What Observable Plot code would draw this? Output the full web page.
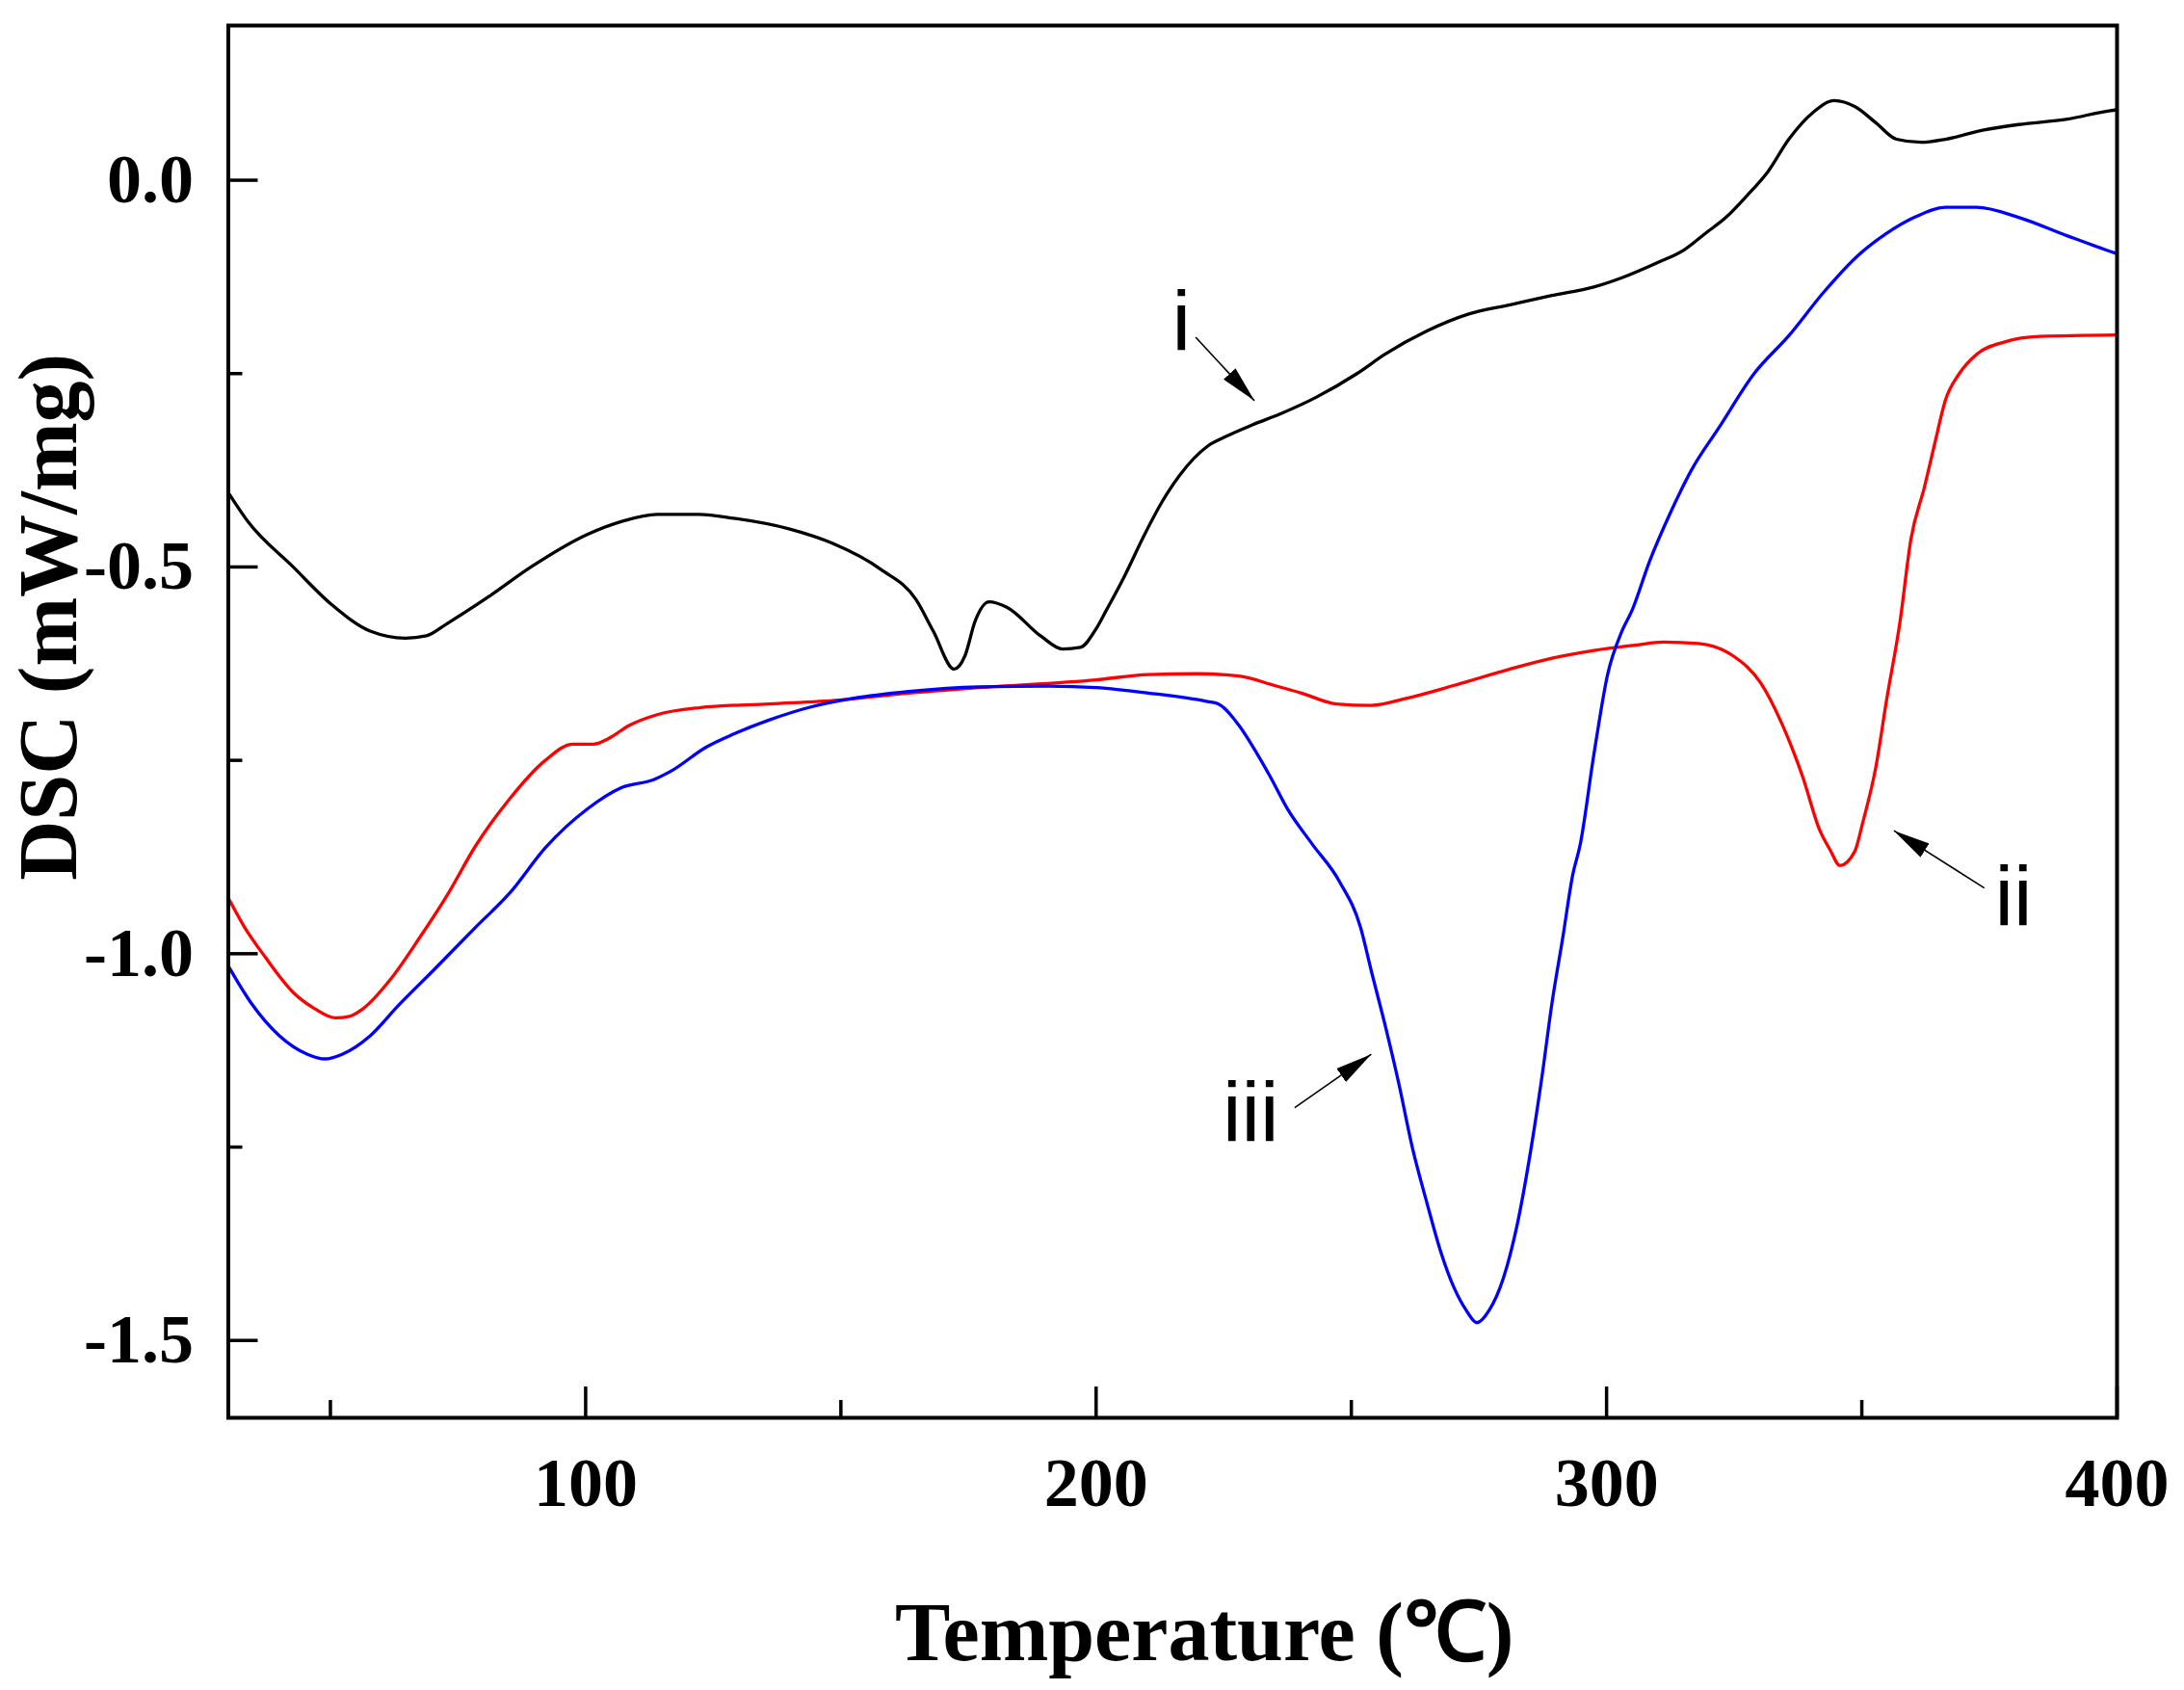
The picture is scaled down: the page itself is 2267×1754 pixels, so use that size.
<!DOCTYPE html>
<html><head><meta charset="utf-8">
<script src="https://cdn.jsdelivr.net/npm/d3@7"></script>
<script src="https://cdn.jsdelivr.net/npm/@observablehq/plot@0.6"></script>
<style>html,body{margin:0;padding:0;background:#fff;} svg{display:block;}</style>
</head><body><div id="chart"></div>
<script>
// Curve i (black)
const tempI = [30,33.8,42.7,50.3,57.8,64.7,68.8,72.9,81.1,89.3,100.3,107.1,114,122.2,129,140,148.2,157.8,164.7,168.1,172.2,174.3,176.3,179,182.5,189.3,193.4,196.9,200,202,205.4,209.5,212.9,216.3,221.8,225.2,230.7,236.1,243,251.1,256.6,264.8,273,281.1,289.3,297.5,303,309.8,315.2,319.3,323.4,327.5,331.6,335.7,340.5,344.6,348.7,352.8,356.8,361.6,366.4,373.9,380.7,390.3,398.7,400];
const dscI  = [-0.404,-0.441,-0.5,-0.549,-0.583,-0.592,-0.589,-0.573,-0.538,-0.5,-0.458,-0.441,-0.432,-0.432,-0.437,-0.451,-0.469,-0.503,-0.542,-0.583,-0.632,-0.615,-0.57,-0.545,-0.552,-0.59,-0.606,-0.604,-0.58,-0.556,-0.514,-0.458,-0.416,-0.382,-0.344,-0.332,-0.316,-0.302,-0.281,-0.25,-0.225,-0.195,-0.173,-0.161,-0.149,-0.138,-0.126,-0.107,-0.09,-0.069,-0.048,-0.02,0.011,0.053,0.088,0.103,0.095,0.074,0.053,0.049,0.053,0.065,0.072,0.079,0.09,0.091];
// Curve ii (red)
const tempII = [30,33.2,37.3,42.7,46.9,51,53.7,56.4,61.9,67.4,72.9,78.4,85.2,92.1,97.5,101.6,104.4,108.5,114,122.2,135.9,149.6,163.3,177,200,210.2,219.8,228,234.8,240.2,247,253.9,260.7,270.2,281.1,289.3,297.5,305.7,311.1,318,324.8,330.2,334.3,338.4,341.8,343.8,345.7,348.6,350.2,352.8,354.8,357.5,359.6,362.3,364.3,366.4,369.1,372.5,378,384.8,400];
const dscII  = [-0.928,-0.966,-1.005,-1.05,-1.071,-1.083,-1.081,-1.071,-1.032,-0.98,-0.924,-0.861,-0.799,-0.75,-0.729,-0.729,-0.722,-0.705,-0.691,-0.682,-0.677,-0.672,-0.663,-0.656,-0.646,-0.639,-0.638,-0.641,-0.653,-0.663,-0.677,-0.679,-0.67,-0.653,-0.632,-0.618,-0.608,-0.601,-0.597,-0.599,-0.615,-0.65,-0.702,-0.771,-0.841,-0.866,-0.886,-0.868,-0.83,-0.757,-0.674,-0.57,-0.465,-0.396,-0.34,-0.284,-0.25,-0.225,-0.209,-0.202,-0.2];
// Curve iii (blue)
const tempIII = [30,34.5,40,45.5,48.9,52.3,57.8,63.3,70.1,78.4,85.2,92.1,100.3,107.1,113.3,116.7,123.6,129,135.9,144.1,152.3,163.3,177,190.7,200,210.2,221.8,223.9,228,231.4,234.1,237.5,242.3,247.7,251.8,253.9,256.6,259.3,262,264.8,267.5,270.2,272.5,274.6,277,279.8,282.5,285.2,287.3,289.3,291.4,293.4,294.8,297.5,300.2,303,305,308.4,312.5,316.6,322.1,328.9,335.7,342.5,349.3,354.8,360.3,366.4,372.5,380.7,390.3,399.1,400];
const dscIII  = [-1.016,-1.064,-1.106,-1.13,-1.136,-1.13,-1.106,-1.067,-1.022,-0.966,-0.921,-0.863,-0.813,-0.785,-0.775,-0.764,-0.733,-0.716,-0.698,-0.681,-0.67,-0.661,-0.655,-0.654,-0.656,-0.663,-0.674,-0.677,-0.705,-0.74,-0.771,-0.813,-0.858,-0.907,-0.966,-1.022,-1.092,-1.168,-1.252,-1.322,-1.385,-1.433,-1.461,-1.477,-1.461,-1.419,-1.35,-1.252,-1.161,-1.064,-0.98,-0.897,-0.86,-0.743,-0.639,-0.583,-0.556,-0.493,-0.43,-0.375,-0.319,-0.25,-0.201,-0.145,-0.097,-0.069,-0.048,-0.035,-0.035,-0.048,-0.072,-0.093,-0.095];

// Axis ticks
const xMajorTicks = [100,200,300,400];
const xMinorTicks = [50,150,250,350];
const yMajorTicks = [0,-0.5,-1.0,-1.5];
const yMinorTicks = [-0.25,-0.75,-1.25];

// Annotations
const annText = ["i","ii","iii"];
const annT = [216.7,379.7,230.3];
const annV = [-0.184,-0.928,-1.207];
const arrowT1 = [219.5,374.0,238.9];
const arrowV1 = [-0.203,-0.915,-1.199];
const arrowT2 = [231.0,356.3,253.9];
const arrowV2 = [-0.285,-0.841,-1.130];

const xTitle = "Temperature (℃)";
const yTitle = "DSC (mW/mg)";

const serif = "'Liberation Serif','Times New Roman',Times,serif";
const sans = "'Liberation Sans',Arial,sans-serif";
const rows = (T,V) => T.map((t,i)=>({t, v:V[i]}));
const ann = annText.map((s,i)=>({s, t:annT[i], v:annV[i]}));
const arrows = arrowT1.map((t,i)=>({t1:t, v1:arrowV1[i], t2:arrowT2[i], v2:arrowV2[i]}));

const chart = Plot.plot({
  width: 2267, height: 1754,
  marginLeft: 236.5, marginRight: 70, marginTop: 26, marginBottom: 283,
  x: {domain: [30, 400]},
  y: {domain: [-1.6, 0.2]},
  style: {fontFamily: serif, background: "#fff", color: "#000"},
  marks: [
    Plot.line(rows(tempI, dscI), {x:"t", y:"v", stroke:"#000000", strokeWidth:3.3, curve:"monotone-x"}),
    Plot.line(rows(tempII, dscII), {x:"t", y:"v", stroke:"#ff0000", strokeWidth:3.3, curve:"monotone-x"}),
    Plot.line(rows(tempIII, dscIII), {x:"t", y:"v", stroke:"#0000ff", strokeWidth:3.3, curve:"monotone-x"}),
    // x ticks (inward)
    Plot.axisX({ticks: xMajorTicks, tickSize: 32, dy: -32, tickFormat: () => "", label: null, strokeWidth: 3.5}),
    Plot.axisX({ticks: xMinorTicks, tickSize: 18, dy: -18, tickFormat: () => "", label: null, strokeWidth: 3.5}),
    Plot.axisX({ticks: xMajorTicks, tickSize: 0, tickPadding: 40, tickFormat: d => String(d), label: null, fontSize: 72, fontWeight: "bold", fontFamily: serif}),
    // y ticks (inward)
    Plot.axisY({ticks: yMajorTicks, tickSize: 31, dx: 31, tickFormat: () => "", label: null, strokeWidth: 3.5}),
    Plot.axisY({ticks: yMinorTicks, tickSize: 15, dx: 15, tickFormat: () => "", label: null, strokeWidth: 3.5}),
    Plot.axisY({ticks: yMajorTicks, tickSize: 0, tickPadding: 36, tickFormat: d => d.toFixed(1), label: null, fontSize: 72, fontWeight: "bold", fontFamily: serif}),
    Plot.frame({stroke: "#000", strokeWidth: 4}),
    // axis titles
    Plot.text([xTitle], {frameAnchor: "bottom", dx: 33, dy: 223.5, fontSize: 86, fontWeight: "bold", fontFamily: serif, lineAnchor: "middle", textAnchor: "middle"}),
    Plot.text([yTitle], {frameAnchor: "left", rotate: -90, dx: -186, dy: -108.7, fontSize: 86, fontWeight: "bold", fontFamily: serif, lineAnchor: "middle", textAnchor: "middle"}),
    // annotations
    Plot.link(arrows, {x1:"t1", y1:"v1", x2:"t2", y2:"v2", stroke:"#000", strokeWidth:1.6, ariaLabel:"annotation-arrow"}),
    Plot.text(ann, {x:"t", y:"v", text:"s", fontFamily: sans, fontSize: 88, lineAnchor: "middle", textAnchor: "middle", fill:"#000"})
  ]
});
document.getElementById("chart").appendChild(chart);

// filled arrowheads for the annotation arrows
const ns = "http://www.w3.org/2000/svg";
const svg = chart.tagName.toLowerCase() === "svg" ? chart : chart.querySelector("svg");
const defs = document.createElementNS(ns, "defs");
const marker = document.createElementNS(ns, "marker");
marker.setAttribute("id", "triHead");
marker.setAttribute("viewBox", "0 0 38 17");
marker.setAttribute("refX", "38");
marker.setAttribute("refY", "8.5");
marker.setAttribute("markerWidth", "38");
marker.setAttribute("markerHeight", "17");
marker.setAttribute("markerUnits", "userSpaceOnUse");
marker.setAttribute("orient", "auto");
const head = document.createElementNS(ns, "path");
head.setAttribute("d", "M0,0 L38,8.5 L0,17 Z");
head.setAttribute("fill", "#000");
head.setAttribute("stroke", "none");
marker.appendChild(head);
defs.appendChild(marker);
svg.insertBefore(defs, svg.firstChild);
const arrowPaths = new Set([
  ...svg.querySelectorAll('[aria-label="annotation-arrow"]'),
  ...svg.querySelectorAll('g[aria-label="link"] path')
]);
arrowPaths.forEach(p => {
  if (p.tagName.toLowerCase() === "path") p.setAttribute("marker-end", "url(#triHead)");
  else p.querySelectorAll("path").forEach(q => q.setAttribute("marker-end", "url(#triHead)"));
});
</script>
</body></html>
